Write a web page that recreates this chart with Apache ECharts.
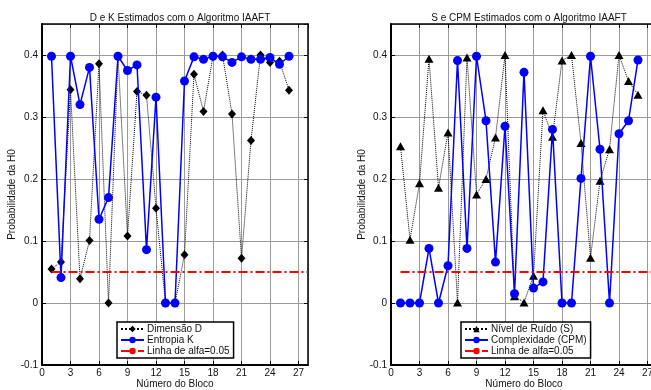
<!DOCTYPE html>
<html>
<head>
<meta charset="utf-8">
<script src="https://cdn.jsdelivr.net/npm/echarts@6/dist/echarts.min.js"></script>
<style>
  html, body { margin: 0; padding: 0; background: #fff; }
  #chart { width: 651px; height: 390px; }
</style>
</head>
<body>
<div id="chart"></div>
<script>
// block numbers 1..26
const blocks = [1, 2, 3, 4, 5, 6, 7, 8, 9, 10, 11, 12, 13, 14, 15, 16, 17, 18, 19, 20, 21, 22, 23, 24, 25, 26];

// left panel
const dimensaoD = [0.055, 0.066, 0.344, 0.039, 0.101, 0.386, 0, 0.398, 0.108, 0.341, 0.335, 0.153, 0, 0, 0.078, 0.369, 0.309, 0.398, 0.4, 0.305, 0.072, 0.262, 0.4, 0.388, 0.39, 0.343];
const entropiaK = [0.398, 0.041, 0.398, 0.32, 0.38, 0.135, 0.17, 0.398, 0.375, 0.384, 0.086, 0.332, 0, 0, 0.358, 0.397, 0.393, 0.398, 0.397, 0.388, 0.397, 0.393, 0.393, 0.396, 0.385, 0.398];

// right panel
const ruidoS = [0.253, 0.102, 0.193, 0.394, 0.186, 0.275, 0.001, 0.396, 0.175, 0.2, 0.267, 0.4, 0.011, 0.001, 0.044, 0.311, 0.268, 0.391, 0.4, 0.258, 0.073, 0.197, 0.248, 0.4, 0.358, 0.336];
const complexCPM = [0, 0, 0, 0.088, 0, 0.06, 0.391, 0.088, 0.398, 0.294, 0.066, 0.285, 0.015, 0.372, 0.024, 0.034, 0.28, 0, 0, 0.201, 0.398, 0.248, 0, 0.273, 0.294, 0.392];

// alpha reference line
const alphaX = [1, 28];
const alpha = 0.05;

const titles = ["D e K Estimados com o Algoritmo IAAFT", "S e CPM Estimados com o Algoritmo IAAFT"];
const xName = "Número do Bloco";
const yName = "Probabilidade da H0";

const font = "'Liberation Sans', Arial, sans-serif";
const fs = 10;
const pair = (ys) => blocks.map((b, i) => [b, ys[i]]);

// the right panel runs past the canvas edge, as in the original figure
const grids = [
  { left: 42, top: 24, width: 266, height: 341 },
  { left: 391, top: 24, width: 266, height: 341 }
];

const gridLine = { show: true, lineStyle: { color: "#9a9a9a", width: 1 } };

function xAxes(g) {
  const base = {
    gridIndex: g, type: "value", min: 0, max: 28, interval: 3
  };
  return [
    {
      ...base,
      position: "bottom",
      name: xName,
      nameLocation: "middle",
      nameGap: 14,
      nameMoveOverlap: false,
      nameTextStyle: { color: "#111", fontSize: fs, fontFamily: font },
      axisLine: { onZero: false, lineStyle: { color: "#000", width: 2 } },
      axisTick: { inside: true, length: 4, lineStyle: { color: "#000" } },
      axisLabel: { color: "#111", fontSize: fs, fontFamily: font, margin: 3, showMaxLabel: false },
      splitLine: gridLine
    },
    {
      ...base,
      position: "top",
      axisLine: { onZero: false, lineStyle: { color: "#000", width: 1.5 } },
      axisTick: { inside: true, length: 4, lineStyle: { color: "#000" } },
      axisLabel: { show: false },
      splitLine: { show: false }
    }
  ];
}

function yAxes(g, gap) {
  const base = {
    gridIndex: g, type: "value", min: -0.1, max: 0.45, interval: 0.1
  };
  return [
    {
      ...base,
      position: "left",
      name: yName,
      nameLocation: "middle",
      nameGap: gap,
      nameMoveOverlap: false,
      nameTextStyle: { color: "#111", fontSize: fs, fontFamily: font },
      axisLine: { onZero: false, lineStyle: { color: "#000", width: 2 } },
      axisTick: { inside: true, length: 4, lineStyle: { color: "#000" } },
      axisLabel: {
        color: "#111", fontSize: fs, fontFamily: font, margin: 4, showMaxLabel: false,
        formatter: (v) => String(Math.round(v * 10) / 10)
      },
      splitLine: gridLine
    },
    {
      ...base,
      position: "right",
      axisLine: { onZero: false, lineStyle: { color: "#000", width: 1.5 } },
      axisTick: { inside: true, length: 4, lineStyle: { color: "#000" } },
      axisLabel: { show: false },
      splitLine: { show: false }
    }
  ];
}

function dottedSeries(name, ys, axis) {
  return {
    name, type: "line", xAxisIndex: axis, yAxisIndex: axis,
    data: pair(ys),
    symbol: "diamond", symbolSize: [8, 9],
    itemStyle: { color: "#000" },
    lineStyle: { color: "#000", width: 1, type: "dotted" },
    z: 2
  };
}

function blueSeries(name, ys, axis) {
  return {
    name, type: "line", xAxisIndex: axis, yAxisIndex: axis,
    data: pair(ys),
    symbol: "circle", symbolSize: 9,
    itemStyle: { color: "#0000ff" },
    lineStyle: { color: "#0000ff", width: 1.5 },
    z: 3
  };
}

function alphaSeries(axis) {
  return {
    name: "Linha de alfa=0.05", type: "line", xAxisIndex: axis, yAxisIndex: axis,
    data: alphaX.map((x) => [x, alpha]),
    symbol: "none",
    itemStyle: { color: "#ff0000" },
    lineStyle: { color: "#ff0000", width: 2, type: [9, 3, 2, 3] },
    z: 4
  };
}

const legendBase = {
  orient: "vertical",
  itemWidth: 23,
  itemHeight: 8,
  itemGap: 1,
  padding: [2, 4, 2, 3],
  borderColor: "#000",
  borderWidth: 1.5,
  backgroundColor: "#fff",
  textStyle: { color: "#111", fontSize: fs, fontFamily: font, padding: [0, 0, 0, -2] },
  z: 10
};

const titleStyle = { fontSize: fs, fontWeight: "normal", color: "#111", fontFamily: font };

const chart = echarts.init(document.getElementById("chart"), null, { renderer: "canvas" });

chart.setOption({
  animation: false,
  backgroundColor: "#fff",
  title: [
    { text: titles[0], left: 175, top: 8, textAlign: "center", textStyle: titleStyle },
    { text: titles[1], left: 524, top: 8, textAlign: "center", textStyle: titleStyle }
  ],
  legend: [
    { ...legendBase, left: 117, top: 322,
      data: ["Dimensão D", "Entropia K", "Linha de alfa=0.05"] },
    { ...legendBase, left: 461, top: 322,
      data: ["Nível de Ruído (S)", "Complexidade (CPM)", "Linha de alfa=0.05"] }
  ],
  grid: grids.map((g) => ({ ...g, show: false, containLabel: false, outerBoundsMode: "none" })),
  xAxis: [...xAxes(0), ...xAxes(1)],
  yAxis: [...yAxes(0, 25), ...yAxes(1, 24)],
  series: [
    dottedSeries("Dimensão D", dimensaoD, 0),
    blueSeries("Entropia K", entropiaK, 0),
    alphaSeries(0),
    { ...dottedSeries("Nível de Ruído (S)", ruidoS, 2), symbol: "triangle", symbolSize: [9, 8] },
    blueSeries("Complexidade (CPM)", complexCPM, 2),
    alphaSeries(2)
  ]
});
</script>
</body>
</html>
